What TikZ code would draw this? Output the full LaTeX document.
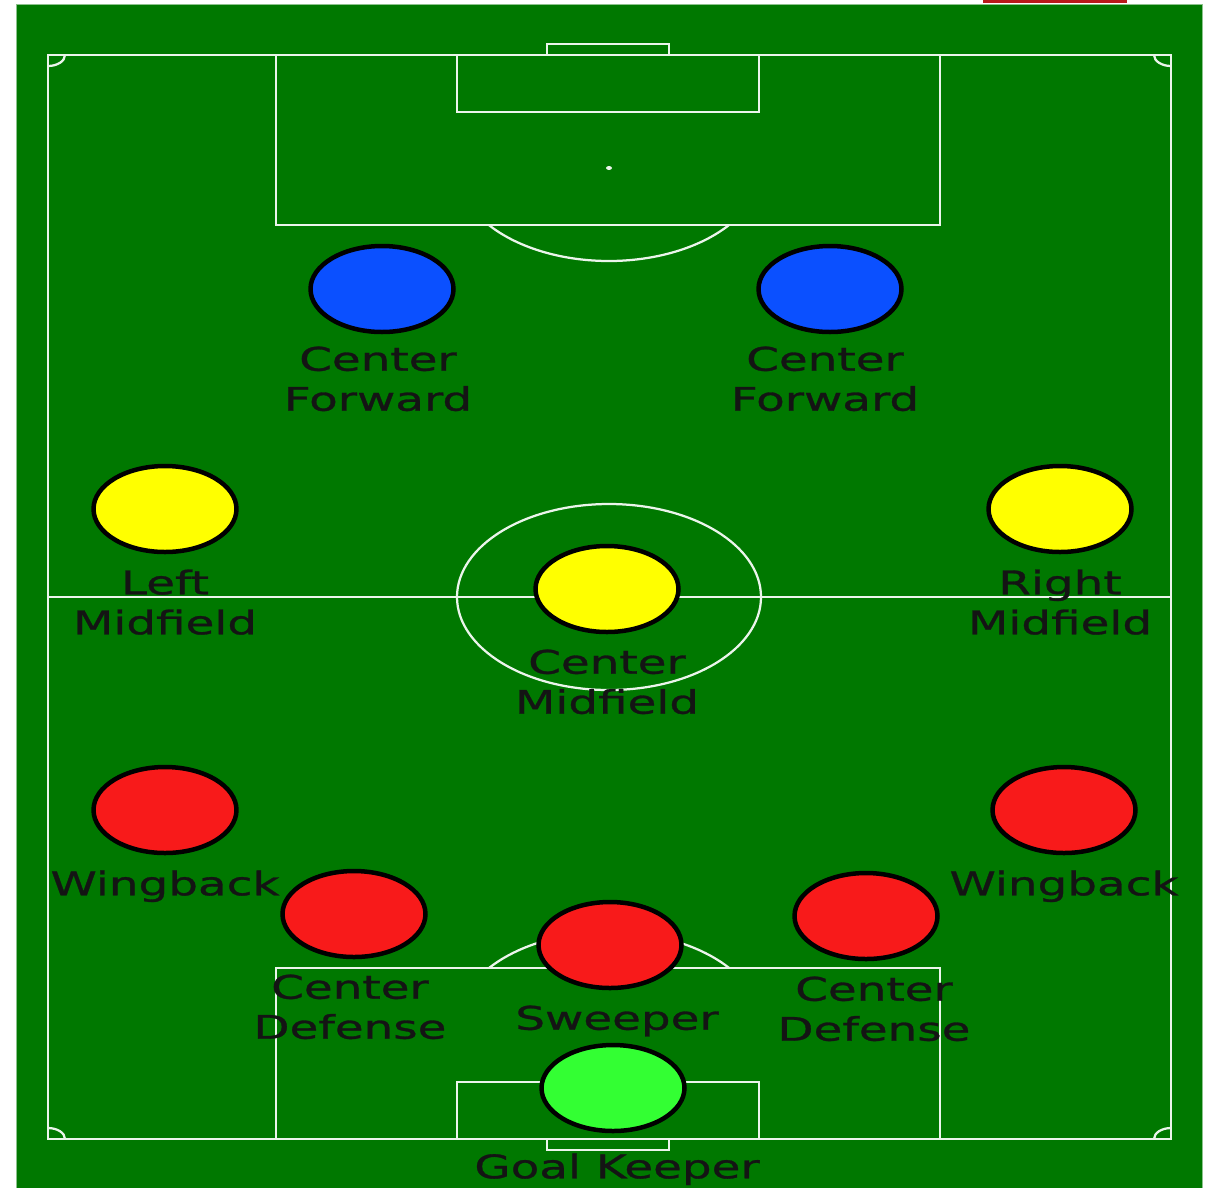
\documentclass[tikz,border=0pt]{standalone}
\usepackage{xcolor}
\usepackage{fontspec}
\usepackage{tikz}
\usetikzlibrary{positioning, shapes.geometric}
\newfontfamily\pitchfont[FakeStretch=1.44, FakeBold=0.9]{DejaVu Sans}
\definecolor{pitchgreen}{RGB}{0,120,0}
\definecolor{pitchline}{RGB}{235,245,235}
\definecolor{fwdblue}{RGB}{11,80,255}
\definecolor{midyellow}{RGB}{255,255,0}
\definecolor{defred}{RGB}{248,26,26}
\definecolor{keepergreen}{RGB}{51,255,51}
\definecolor{flagred}{RGB}{184,25,26}

\begin{document}
\begin{tikzpicture}[
  x=0.02cm, y=-0.02cm,
  line/.style={draw=pitchline, line width=0.045cm},
  player/.style={ellipse, draw=black, line width=0.09cm, inner sep=0pt,
                  minimum width=2.86cm, minimum height=1.72cm},
  role/.style={font=\pitchfont\fontsize{18.5}{22.76}\selectfont, align=center,
               inner sep=0pt, text=black!92},
  node distance=0.3cm
]
\useasboundingbox (0,0) rectangle (1209,1188);
\fill[flagred] (983,0) rectangle (1127,3);
\fill[pitchgreen] (16,4) rectangle (1202,1188);
\draw[pitchgreen!45!white, line width=0.02cm] (16,1188) -- (16,4) -- (1202,4) -- (1202,1188);
\draw[line] (48,55) rectangle (1171,1139);
\draw[line] (48,597) -- (1171,597);
\draw[line] (609,597) ellipse [x radius=152, y radius=93];
\draw[line] (276,55) rectangle (940,225);
\draw[line] (457,55) rectangle (759,112);
\draw[line] (547,44) rectangle (669,55);
\fill[pitchline] (609,168) ellipse [x radius=3, y radius=2];
\draw[line] (729,225) arc [start angle=37.8, end angle=142.2, x radius=152, y radius=93];
\draw[line] (276,968) rectangle (940,1139);
\draw[line] (457,1082) rectangle (759,1139);
\draw[line] (547,1139) rectangle (669,1150);
\draw[line] (489,968) arc [start angle=217.8, end angle=322.2, x radius=152, y radius=93];
\draw[line] (65,55) arc [start angle=0, end angle=90, x radius=17, y radius=11];
\draw[line] (1171,66) arc [start angle=90, end angle=180, x radius=17, y radius=11];
\draw[line] (48,1128) arc [start angle=270, end angle=360, x radius=17, y radius=11];
\draw[line] (1154,1139) arc [start angle=180, end angle=270, x radius=17, y radius=11];

\node[player, fill=fwdblue] (fwdl) at (382,289) {};
\node[player, fill=fwdblue] (fwdr) at (830,289) {};
\node[player, fill=midyellow] (midl) at (165,509) {};
\node[player, fill=midyellow] (midr) at (1060,509) {};
\node[player, fill=midyellow] (midc) at (607,589) {};
\node[player, fill=defred] (wingl) at (165,810) {};
\node[player, fill=defred] (wingr) at (1064,810) {};
\node[player, fill=defred] (defl) at (354,914) {};
\node[player, fill=defred] (defr) at (866,916) {};
\node[player, fill=defred] (sweep) at (610,945) {};
\node[player, fill=keepergreen] (keeper) at (613,1088) {};

\node[role, below=0.24cm of fwdl, xshift=-0.08cm] (fwdl-txt) {Center\\Forward};
\node[role, below=0.24cm of fwdr, xshift=-0.1cm] (fwdr-txt) {Center\\Forward};
\node[role, below=of midl] (midl-txt) {Left\\Midfield};
\node[role, below=of midr] (midr-txt) {Right\\Midfield};
\node[role, below=of midc] (midc-txt) {Center\\Midfield};
\node[role, below=of wingl] (wingl-txt) {Wingback};
\node[role, below=of wingr] (wingr-txt) {Wingback};
\node[role, below=of defl, xshift=-0.08cm] (defl-txt) {Center\\Defense};
\node[role, below=of defr, xshift=0.16cm] (defr-txt) {Center\\Defense};
\node[role, below=of sweep, xshift=0.14cm] (sweep-txt) {Sweeper};
\node[role, below=0.4cm of keeper, xshift=0.08cm] (keeper-txt) {Goal Keeper};
\end{tikzpicture}
\end{document}
